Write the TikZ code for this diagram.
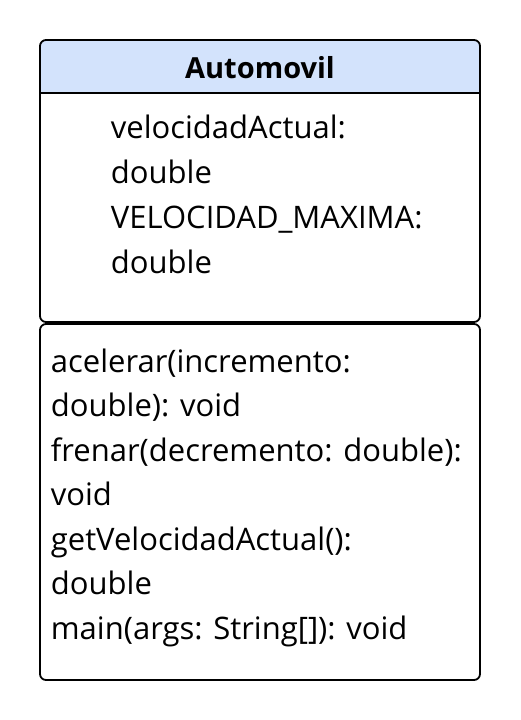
\documentclass[tikz,border=0pt]{standalone}
\usepackage{fontspec}
\setmainfont{Open Sans}
\usetikzlibrary{positioning}
\definecolor{headblue}{RGB}{211,227,252}

\begin{document}
\begin{tikzpicture}[x=1pt, y=-1pt, line width=1.8pt,
        box/.style={draw, rounded corners=6pt},
        member/.style={anchor=base west, inner sep=0pt, font=\fontsize{31}{45}\selectfont},
        title/.style={anchor=base, inner sep=0pt, font=\fontsize{29}{35}\selectfont\bfseries}]
    \useasboundingbox (0,0) rectangle (520,720);

    % header band and attribute part
    \fill[headblue, rounded corners=6pt] (40,40) rectangle (480,110);
    \fill[white] (41,93) rectangle (479,320);
    \draw[box] (40,40) rectangle (480,322);
    \draw (40,93) -- (480,93);
    \node[title] (name) at (260,78) {Automovil};

    \foreach \txt [count=\i from 0] in {velocidadActual:, double, {VELOCIDAD\_MAXIMA:}, double}
        \node[member] (attr\i) at (110,{138+45*\i}) {\txt};

    % methods part
    \draw[box] (40,324) rectangle (480,680);
    \foreach \txt [count=\i from 0] in {{acelerar(incremento:}, {double): void},
            {frenar(decremento: double):}, void, {getVelocidadActual():}, double,
            {main(args: String[]): void}}
        \node[member] (op\i) at (50,{372+44.5*\i}) {\txt};
\end{tikzpicture}
\end{document}
